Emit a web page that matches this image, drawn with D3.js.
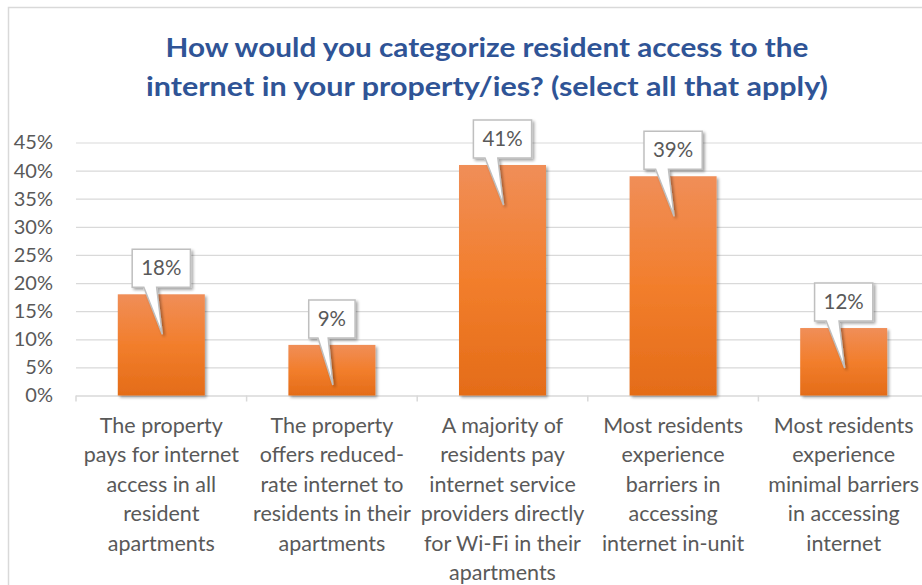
<!DOCTYPE html>
<html>
<head>
<meta charset="UTF-8">
<title>Resident internet access</title>
<script src="https://cdn.jsdelivr.net/npm/d3@7"></script>
<style>
body { margin: 0; background: #fff; }
text { font-family: Lato, "Open Sans", sans-serif; }
</style>
</head>
<body>
<svg width="922" height="585"></svg>
<script>
// chart data
var categories = [
  "The property pays for internet access in all resident apartments",
  "The property offers reduced-rate internet to residents in their apartments",
  "A majority of residents pay internet service providers directly for Wi-Fi in their apartments",
  "Most residents experience barriers in accessing internet in-unit",
  "Most residents experience minimal barriers in accessing internet"
];
var labelLines = [
  ["The property", "pays for internet", "access in all", "resident", "apartments"],
  ["The property", "offers reduced-", "rate internet to", "residents in their", "apartments"],
  ["A majority of", "residents pay", "internet service", "providers directly", "for Wi-Fi in their", "apartments"],
  ["Most residents", "experience", "barriers in", "accessing", "internet in-unit"],
  ["Most residents", "experience", "minimal barriers", "in accessing", "internet"]
];
var values = [0.18, 0.09, 0.41, 0.39, 0.12];
var yTicks = [0, 0.05, 0.10, 0.15, 0.20, 0.25, 0.30, 0.35, 0.40, 0.45];
var titleLines = [
  "How would you categorize resident access to the",
  "internet in your property/ies? (select all that apply)"
];

var svg = d3.select("svg"),
    width = +svg.attr("width"),
    height = +svg.attr("height");

var left = 76, step = 170.6,
    y0 = 395.5, yTop = 142.5;

var defs = svg.append("defs");
var grad = defs.append("linearGradient").attr("id", "barGrad")
    .attr("x1", 0).attr("y1", 0).attr("x2", 0).attr("y2", 1);
grad.append("stop").attr("offset", "0%").attr("stop-color", "#F08E58");
grad.append("stop").attr("offset", "50%").attr("stop-color", "#F27E2C");
grad.append("stop").attr("offset", "100%").attr("stop-color", "#E46C18");

var shadow = defs.append("filter").attr("id", "shadow")
    .attr("x", "-20%").attr("y", "-20%").attr("width", "150%").attr("height", "150%");
shadow.append("feGaussianBlur").attr("in", "SourceAlpha").attr("stdDeviation", 1.6);
shadow.append("feOffset").attr("dx", 1.5).attr("dy", 1.5).attr("result", "off");
shadow.append("feComponentTransfer").append("feFuncA").attr("type", "linear").attr("slope", 0.35);
var merge = shadow.append("feMerge");
merge.append("feMergeNode");
merge.append("feMergeNode").attr("in", "SourceGraphic");

// chart frame
svg.append("rect").attr("width", width).attr("height", height).attr("fill", "#fff");
svg.append("path")
    .attr("d", "M8.5," + height + "V7.5H" + width)
    .attr("fill", "none").attr("stroke", "#D9D9D9").attr("stroke-width", 1.5);

// title
svg.append("g").selectAll("text").data(titleLines).enter().append("text")
    .attr("x", 487)
    .attr("y", function(d, i) { return 57 + i * 38.5; })
    .attr("text-anchor", "middle")
    .attr("fill", "#2F5496")
    .attr("font-weight", "bold")
    .attr("font-size", 26.5)
    .attr("textLength", function(d, i) { return i == 0 ? 643 : 682; })
    .attr("lengthAdjust", "spacingAndGlyphs")
    .text(function(d) { return d; });

var x = d3.scaleBand()
    .domain(categories)
    .range([left, left + step * categories.length])
    .paddingInner(0.49)
    .paddingOuter(0.245);

var y = d3.scaleLinear().domain([0, 0.45]).range([y0, yTop]);

// gridlines + y labels
var yAxis = d3.axisLeft(y)
    .tickValues(yTicks)
    .tickFormat(d3.format(".0%"))
    .tickSize(-(width - left))
    .tickPadding(23);
var gy = svg.append("g").attr("transform", "translate(" + left + ",0)").call(yAxis);
gy.select(".domain").remove();
gy.selectAll(".tick line").attr("stroke", "#D9D9D9").attr("stroke-width", 1.2)
    .filter(function(d) { return d === 0; }).remove();
gy.selectAll(".tick text")
    .attr("fill", "#595959")
    .attr("font-size", 20)
    .attr("font-family", "Lato, sans-serif");

// x axis line with boundary ticks
var gx = svg.append("g");
gx.append("line")
    .attr("x1", left).attr("x2", width)
    .attr("y1", y0 + 0.5).attr("y2", y0 + 0.5)
    .attr("stroke", "#D9D9D9").attr("stroke-width", 1.5);
gx.selectAll("line.tk").data(d3.range(categories.length + 1)).enter().append("line")
    .attr("class", "tk")
    .attr("x1", function(d) { return left + d * step; })
    .attr("x2", function(d) { return left + d * step; })
    .attr("y1", y0).attr("y2", y0 + 6)
    .attr("stroke", "#D9D9D9").attr("stroke-width", 1.5);

// category labels
var lab = svg.append("g").selectAll("text").data(categories).enter().append("text")
    .attr("text-anchor", "middle")
    .attr("fill", "#595959")
    .attr("font-size", 21.5);
lab.each(function(d, i) {
  var t = d3.select(this);
  labelLines[i].forEach(function(line, j) {
    t.append("tspan")
      .attr("x", x(d) + x.bandwidth() / 2)
      .attr("y", 433 + j * 29.4)
      .text(line);
  });
});

// bars
svg.append("g").selectAll("rect").data(values).enter().append("rect")
    .attr("x", function(d, i) { return x(categories[i]); })
    .attr("y", function(d) { return y(d); })
    .attr("width", x.bandwidth())
    .attr("height", function(d) { return y(0) - y(d); })
    .attr("fill", "url(#barGrad)")
    .attr("filter", "url(#shadow)");

// callout labels
var call = svg.append("g").selectAll("g").data(values).enter().append("g");
call.each(function(d, i) {
  var g = d3.select(this);
  var cx = x(categories[i]) + x.bandwidth() / 2;
  var top = y(d);
  var path = g.append("path");
  var txt = g.append("text")
      .attr("x", cx)
      .attr("y", top - 19)
      .attr("text-anchor", "middle")
      .attr("fill", "#595959")
      .attr("font-size", 20.5)
      .text(d3.format(".0%")(d));
  var w = txt.node().getComputedTextLength() + 18;
  var bx0 = cx - w / 2, bx1 = cx + w / 2;
  var by1 = top - 7, by0 = by1 - 38;
  var tipX = cx + 1, tipY = top + 40;
  path.attr("d", "M" + bx0 + "," + by0 + "H" + bx1 + "V" + by1 +
        "H" + (cx - 0.08 * w) + "L" + tipX + "," + tipY +
        "L" + (cx - 0.3 * w) + "," + by1 + "H" + bx0 + "Z")
      .attr("fill", "#fff")
      .attr("stroke", "#BFBFBF")
      .attr("stroke-width", 1.5)
      .attr("filter", "url(#shadow)");
});
</script>
</body>
</html>
